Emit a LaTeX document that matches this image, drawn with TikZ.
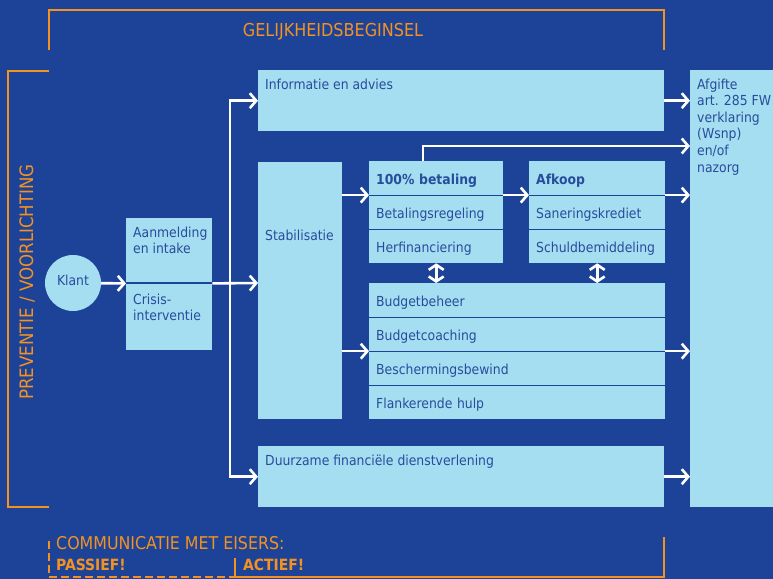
\documentclass[tikz,border=0pt]{standalone}
\usepackage{fontspec}
\setmainfont{DejaVu Sans Condensed}
\usetikzlibrary{arrows.meta,positioning,calc}
\definecolor{bgblue}{RGB}{29,67,152}
\definecolor{boxblue}{RGB}{165,222,241}
\definecolor{txtblue}{RGB}{40,76,156}
\definecolor{orng}{RGB}{243,146,33}
\newcommand\boxfont{\fontsize{13.8bp}{16.6bp}\selectfont}
\tikzset{
  box/.style={fill=boxblue, anchor=north west, inner sep=0pt},
  row/.style={fill=boxblue, text=txtblue, font=\boxfont, anchor=north west,
    minimum height=33.7bp, text width=#1, text height=12bp, text depth=0bp,
    inner xsep=7bp, inner ysep=0pt, align=left},
  lbl/.style={anchor=north west, text=txtblue, font=\boxfont, align=left,
    inner xsep=7bp, inner ysep=8.5bp},
  flow/.style={draw=white, line width=2.6bp, -{Straight Barb[length=6.5bp,width=15bp]}},
  both/.style={draw=white, line width=2.6bp,
    {Straight Barb[length=5bp,width=15bp]}-{Straight Barb[length=5bp,width=15bp]}},
  divider/.style={draw=bgblue, line width=1bp},
  frame/.style={draw=orng, line width=2bp},
  otext/.style={text=orng, inner sep=0pt},
}
\begin{document}
\begin{tikzpicture}[x=1bp,y=-1bp]
  \useasboundingbox (0,0) rectangle (773,579);
  \fill[bgblue] (0,0) rectangle (773,579);
%%
  % Node: klant
  \node[circle, fill=boxblue, minimum size=56bp, inner sep=0pt, text=txtblue, font=\boxfont]
    (klant) at (73,283) {\raisebox{5bp}{Klant}};
  % Node: aanm
  \node[box, minimum width=86bp, minimum height=65bp,
    label={[lbl]north west:Aanmelding\\en intake}] (aanm) at (126,218) {};
  % Node: crisis
  \node[box, minimum width=86bp, minimum height=66bp,
    label={[lbl, inner ysep=10bp]north west:Crisis-\\interventie}] (crisis) at (aanm.south west) {};
  \draw[divider, line width=2bp] (aanm.south west) -- (aanm.south east);
  % Node: info
  \node[box, minimum width=406bp, minimum height=61bp,
    label={[lbl]north west:Informatie en advies}] (info) at (258,70) {};
  % Node: stab
  \node[box, minimum width=84bp, minimum height=257bp,
    label={[lbl, anchor=west, inner ysep=0pt, yshift=55bp]west:Stabilisatie}] (stab) at (258,162) {};
  % Node: duur
  \node[box, minimum width=406bp, minimum height=61bp,
    label={[lbl]north west:Duurzame financi\"ele dienstverlening}] (duur) at (258,446) {};
  % Node: afg
  \node[box, minimum width=100bp, minimum height=437bp,
    label={[lbl, inner ysep=8.5bp]north west:Afgifte\\art. 285 FW\\verklaring\\(Wsnp)\\en/of\\nazorg}]
    (afg) at (690,70) {};
  % Nodes: bet1 .. bet3
  \node[row=120bp] (bet1) at (369,161) {\textbf{100\% betaling}};
  \node[row=120bp, below=0bp of bet1] (bet2) {Betalingsregeling};
  \node[row=120bp, below=0bp of bet2] (bet3) {Herfinanciering};
  % Nodes: afk1 .. afk3
  \node[row=122bp] (afk1) at (529,161) {\textbf{Afkoop}};
  \node[row=122bp, below=0bp of afk1] (afk2) {Saneringskrediet};
  \node[row=122bp, below=0bp of afk2] (afk3) {Schuldbemiddeling};
  % Nodes: bud1 .. bud4
  \node[row=282bp] (bud1) at (369,283) {Budgetbeheer};
  \node[row=282bp, below=0bp of bud1] (bud2) {Budgetcoaching};
  \node[row=282bp, below=0bp of bud2] (bud3) {Beschermingsbewind};
  \node[row=282bp, below=0bp of bud3] (bud4) {Flankerende hulp};
  \foreach \n in {bet1,bet2,afk1,afk2,bud1,bud2,bud3}
    \draw[divider] (\n.south west) -- (\n.south east);
%%
  \coordinate (split) at (230,283);
  % Edge: klant -> aanm
  \draw[flow] (klant) -- (aanm.south west);
  % Edge: aanm -> stab
  \draw[flow] (aanm.south east) -- (stab.north west |- split);
  % Edge: aanm -> info
  \draw[flow] (split) |- (info.west);
  % Edge: aanm -> duur
  \draw[flow] (split) |- (duur.west);
  % Edge: stab -> bet1
  \draw[flow] (stab.east |- bet1.south west) -- (bet1.south west);
  % Edge: stab -> bud2
  \draw[flow] (stab.east |- bud2.south west) -- (bud2.south west);
  % Edge: bet1 -> afk1
  \draw[flow] (bet1.south east) -- (afk1.south west);
  % Edge: bet1 -> afg
  \draw[flow] ([xshift=54bp]bet1.north west) |- ($(afg.west |- bet1.north)+(0,-15)$);
  % Edge: afk1 -> afg
  \draw[flow] (afk1.south east) -- (afg.west |- afk1.south east);
  % Edge: info -> afg
  \draw[flow] (info.east) -- (afg.west |- info.east);
  % Edge: bud2 -> afg
  \draw[flow] (bud2.south east) -- (afg.west |- bud2.south east);
  % Edge: duur -> afg
  \draw[flow] (duur.east) -- (afg.west |- duur.east);
  % Edge: bet3 <-> bud1
  \draw[both] (bet3.south) -- (bet3.south |- bud1.north);
  % Edge: afk3 <-> bud1
  \draw[both] (afk3.south) -- (afk3.south |- bud1.north);
%%
  % Frames
  \draw[frame] (49,50) -- (49,10) -- (664,10) -- (664,50);
  \draw[frame] (49,71) -- (8,71) -- (8,507) -- (49,507);
  \draw[frame] (235,558) -- (235,577) -- (664,577) -- (664,537);
  \draw[frame, dash pattern=on 8bp off 4bp] (49,541) -- (49,577) -- (235,577);
  \node[otext, font=\fontsize{17.8bp}{20bp}\selectfont] (gelijk) at (333,32) {GELIJKHEIDSBEGINSEL};
  \node[otext, rotate=90, font=\fontsize{18.5bp}{20bp}\selectfont] (prev) at (27,282) {PREVENTIE / VOORLICHTING};
  \node[otext, anchor=west, font=\fontsize{17.6bp}{20bp}\selectfont] (comm) at (56,543) {COMMUNICATIE MET EISERS:};
  \node[otext, anchor=west, font=\fontsize{15.5bp}{20bp}\selectfont\bfseries] (passief) at (56,565) {PASSIEF!};
  \node[otext, anchor=west, font=\fontsize{15.5bp}{20bp}\selectfont\bfseries] (actief) at (243,565) {ACTIEF!};
%
\end{tikzpicture}
\end{document}
